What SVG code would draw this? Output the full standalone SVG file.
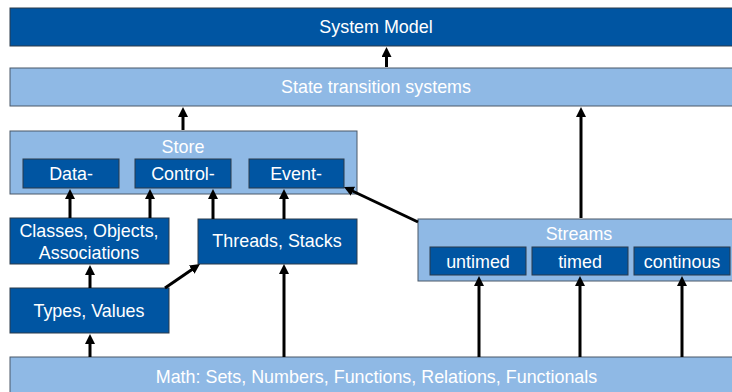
<svg xmlns="http://www.w3.org/2000/svg" width="732" height="392" viewBox="0 0 732 392">
  <style>
    .dark { fill: #0055A2; stroke: #2B3A4A; stroke-width: 1; }
    .light { fill: #8FB9E5; stroke: #4A5868; stroke-width: 1; }
    text { font-family: "Liberation Sans", Arial, sans-serif; font-size: 17.9px; fill: #FFFFFF; text-anchor: middle; dominant-baseline: central; }
    .conn { stroke: #000000; stroke-width: 3; fill: none; marker-end: url(#arrow); }
  </style>
  <defs>
    <marker id="arrow" viewBox="0 0 10 10" refX="3" refY="5" markerWidth="10" markerHeight="10" markerUnits="userSpaceOnUse" orient="auto">
      <path d="M0,0 L10,5 L0,10 z" fill="#000000"/>
    </marker>
  </defs>

  <rect width="732" height="392" fill="#FFFFFF"/>

  <!-- top layers -->
  <g id="system-model">
    <rect class="dark" x="10" y="8" width="730" height="38"/>
    <text x="376" y="27">System Model</text>
  </g>
  <g id="state-transition">
    <rect class="light" x="10" y="68" width="730" height="38"/>
    <text x="376" y="87">State transition systems</text>
  </g>

  <!-- store with its three parts -->
  <g id="store">
    <rect class="light" x="10" y="131" width="347" height="63"/>
    <text x="183" y="147">Store</text>
  </g>
  <g id="store-data">
    <rect class="dark" x="23" y="159" width="96" height="29"/>
    <text x="71" y="174">Data-</text>
  </g>
  <g id="store-control">
    <rect class="dark" x="135" y="159" width="96" height="29"/>
    <text x="183" y="174">Control-</text>
  </g>
  <g id="store-event">
    <rect class="dark" x="249" y="159" width="95" height="29"/>
    <text x="296" y="174">Event-</text>
  </g>

  <!-- middle layer -->
  <g id="classes">
    <rect class="dark" x="10" y="218" width="159" height="46"/>
    <text x="89" y="231">Classes, Objects,</text>
    <text x="89" y="253">Associations</text>
  </g>
  <g id="threads">
    <rect class="dark" x="198" y="219" width="159" height="45"/>
    <text x="277" y="241">Threads, Stacks</text>
  </g>
  <g id="types">
    <rect class="dark" x="10" y="288" width="159" height="45"/>
    <text x="89" y="311">Types, Values</text>
  </g>

  <!-- streams with its three kinds -->
  <g id="streams">
    <rect class="light" x="418" y="219" width="322" height="62"/>
    <text x="579" y="234">Streams</text>
  </g>
  <g id="streams-untimed">
    <rect class="dark" x="430" y="247" width="96" height="28"/>
    <text x="478" y="262">untimed</text>
  </g>
  <g id="streams-timed">
    <rect class="dark" x="532" y="247" width="96" height="28"/>
    <text x="580" y="262">timed</text>
  </g>
  <g id="streams-continous">
    <rect class="dark" x="634" y="247" width="96" height="28"/>
    <text x="682" y="262">continous</text>
  </g>

  <!-- foundation -->
  <g id="math">
    <rect class="light" x="10" y="357" width="730" height="45"/>
    <text x="376.5" y="377">Math: Sets, Numbers, Functions, Relations, Functionals</text>
  </g>

  <!-- connectors -->
  <g id="connectors">
    <line class="conn" x1="386.5" y1="67" x2="386.5" y2="54"/>
    <line class="conn" x1="183" y1="130" x2="183" y2="114"/>
    <line class="conn" x1="581" y1="218" x2="581" y2="114"/>
    <line class="conn" x1="70" y1="218" x2="70" y2="196"/>
    <line class="conn" x1="150" y1="218" x2="150" y2="196"/>
    <line class="conn" x1="213" y1="219" x2="213" y2="196"/>
    <line class="conn" x1="284" y1="219" x2="284" y2="196"/>
    <line class="conn" x1="418" y1="222" x2="350.3" y2="190"/>
    <line class="conn" x1="90" y1="288" x2="90" y2="272"/>
    <line class="conn" x1="165" y1="288" x2="194.2" y2="268"/>
    <line class="conn" x1="90" y1="357" x2="90" y2="341"/>
    <line class="conn" x1="284" y1="357" x2="284" y2="271"/>
    <line class="conn" x1="479" y1="357" x2="479" y2="283"/>
    <line class="conn" x1="580" y1="357" x2="580" y2="283"/>
    <line class="conn" x1="682" y1="357" x2="682" y2="283"/>
  </g>
</svg>
